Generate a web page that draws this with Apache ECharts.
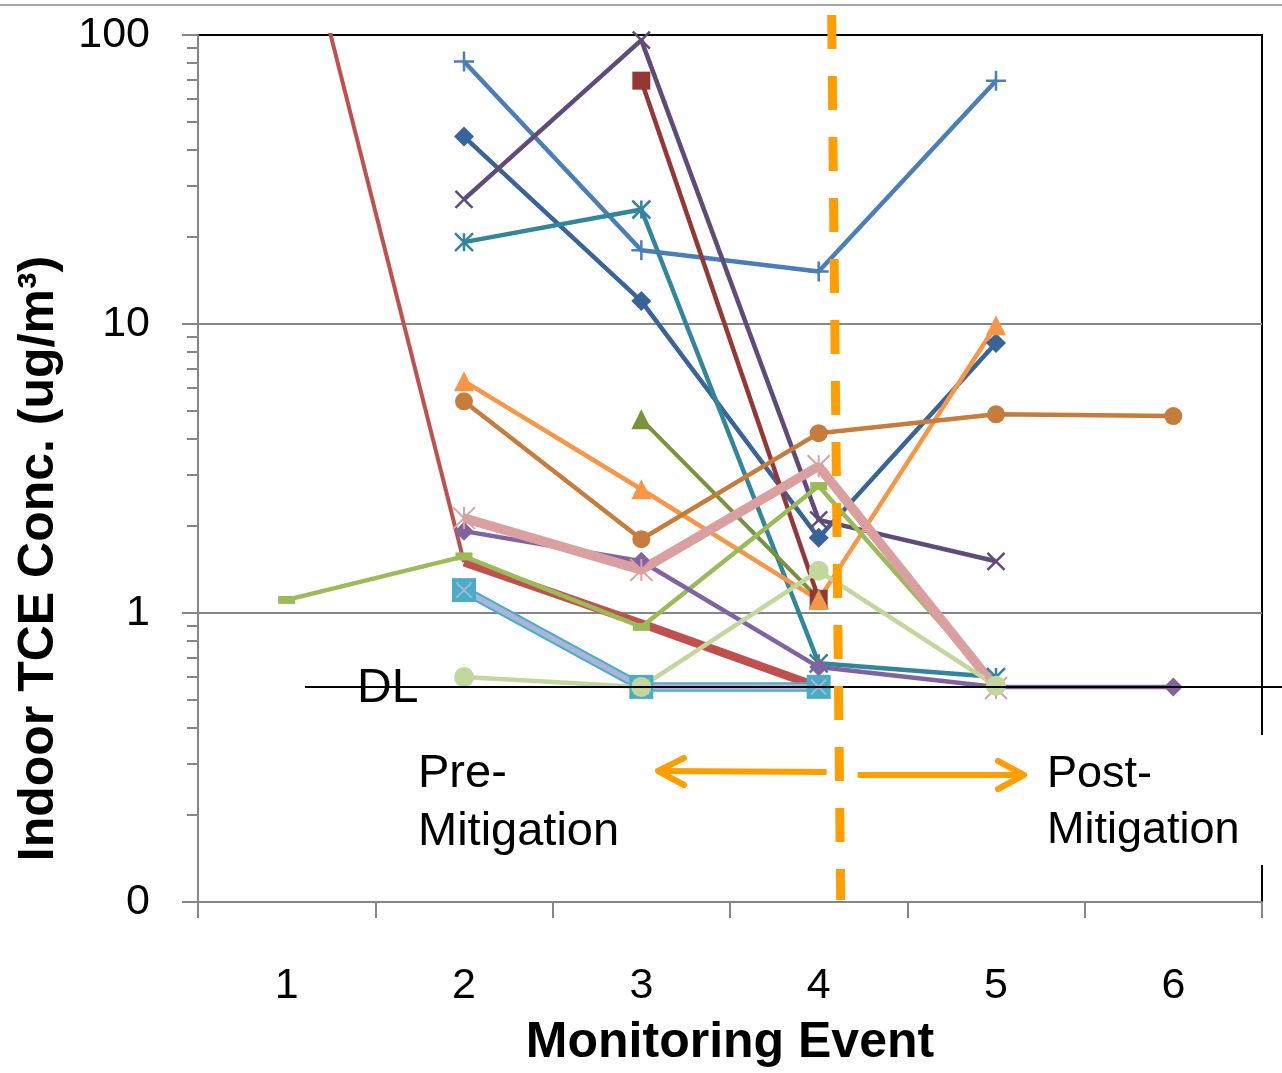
<!DOCTYPE html>
<html>
<head>
<meta charset="utf-8">
<script src="https://cdn.jsdelivr.net/npm/echarts@6/dist/echarts.min.js"></script>
<style>
html,body{margin:0;padding:0;background:#fff;}
#main{width:1282px;height:1073px;}
</style>
</head>
<body>
<div id="main"></div>
<script>
// monitoring events (x categories)
var events = ['1', '2', '3', '4', '5', '6'];

// indoor TCE per building, ug/m3 (null = not sampled)
var redThin        = [400, 1.5, null, null, null, null];
var bluePlus       = [null, 81, 18, 15.2, 69.5, null];
var navyDiamond    = [null, 44.5, 12, 1.82, 8.6, null];
var purpleCross    = [null, 27, 96, 2.1, 1.51, null];
var maroonSquare   = [null, null, 69.5, 1.12, null, null];
var tealStar       = [null, 19.2, 24.9, 0.67, 0.6, null];
var oliveTriangle  = [null, null, 4.68, 1.12, null, null];
var orangeTriangle = [null, 6.34, 2.68, 1.11, 9.9, null];
var brownCircle    = [null, 5.4, 1.8, 4.19, 4.87, 4.8];
var redThick       = [null, 1.5, 0.92, 0.555, null, null];
var greenDash      = [1.11, 1.57, 0.895, 2.75, 0.56, null];
var violetDiamond  = [null, 1.92, 1.51, 0.65, 0.555, 0.555];
var pinkStar       = [null, 2.13, 1.41, 3.22, 0.55, null];
var cyanSquare     = [null, 1.2, 0.555, 0.555, null, null];
var lavenderCross  = [null, 1.2, 0.555, 0.555, null, null];
var paleCircle     = [null, 0.6, 0.555, 1.4, 0.56, null];

var detectionLimit = 0.555;

var FONT = '"Liberation Sans", Arial, sans-serif';
var PLUS = 'path://M5,0 L5,10 M0,5 L10,5';
var CROSS = 'path://M0,0 L10,10 M10,0 L0,10';
var STAR = 'path://M0,0 L10,10 M10,0 L0,10 M5,0 L5,10';

function mkLine(name, data, color, width, symbol, size, stroke) {
  return {
    name: name,
    type: 'line',
    data: data,
    symbol: symbol,
    symbolSize: size,
    showSymbol: symbol !== 'none',
    lineStyle: { color: color, width: width },
    itemStyle: {
      color: stroke ? 'rgba(0,0,0,0)' : color,
      borderColor: color,
      borderWidth: stroke ? stroke : 0
    },
    emphasis: { disabled: true },
    clip: true
  };
}

var chart = echarts.init(document.getElementById('main'));

var option = {
  animation: false,
  backgroundColor: '#fff',
  grid: {
    left: 198, right: 20, top: 35, bottom: 171,
    show: true, borderColor: '#000', borderWidth: 2
  },
  xAxis: {
    type: 'category',
    data: events,
    boundaryGap: true,
    axisLine: { lineStyle: { color: '#868686', width: 2 } },
    axisTick: { show: true, length: 16, lineStyle: { color: '#868686', width: 2 } },
    axisLabel: { fontSize: 43, color: '#000', margin: 63, fontFamily: FONT },
    name: 'Monitoring Event',
    nameLocation: 'middle',
    nameGap: 116,
    nameTextStyle: { fontSize: 50, fontWeight: 'bold', color: '#000', fontFamily: FONT }
  },
  yAxis: {
    type: 'log',
    logBase: 10,
    min: 0.1,
    max: 100,
    axisLine: { show: true, lineStyle: { color: '#868686', width: 2 } },
    axisTick: { show: true, length: 16, lineStyle: { color: '#868686', width: 2 } },
    minorTick: { show: true, splitNumber: 9, length: 11, lineStyle: { color: '#868686', width: 2 } },
    splitLine: { show: true, showMinLine: false, showMaxLine: false, lineStyle: { color: '#868686', width: 2 } },
    axisLabel: {
      fontSize: 43, color: '#000', margin: 48, fontFamily: FONT,
      formatter: function (v) { return v < 0.5 ? '0' : String(v); }
    },
    name: 'Indoor TCE Conc. (ug/m\u00b3)',
    nameLocation: 'middle',
    nameRotate: 90,
    nameGap: 134,
    nameTextStyle: { fontSize: 50, fontWeight: 'bold', color: '#000', fontFamily: FONT, padding: [0, 180, 0, 0] }
  },
  series: [
    mkLine('A', redThin, '#C0504D', 4, 'none', 0),
    mkLine('B', bluePlus, '#4A7EBB', 4.5, PLUS, 20, 2.5),
    mkLine('C', navyDiamond, '#386499', 4.5, 'diamond', 20),
    mkLine('D', purpleCross, '#604A7B', 4.5, CROSS, 17, 2.5),
    mkLine('E', maroonSquare, '#953735', 4.5, 'rect', 18),
    mkLine('F', tealStar, '#31859C', 4.5, STAR, 18, 2.5),
    mkLine('G', oliveTriangle, '#77933C', 4, 'triangle', 20),
    mkLine('H', orangeTriangle, '#F79646', 4.5, 'triangle', 20),
    mkLine('I', brownCircle, '#C77C3B', 4.5, 'circle', 18),
    mkLine('J', redThick, '#C0504D', 8.5, 'none', 0),
    mkLine('K', greenDash, '#9BBB59', 4.5, 'rect', [17, 8]),
    mkLine('L', violetDiamond, '#8064A2', 4.5, 'diamond', 19),
    mkLine('M', pinkStar, '#D9A09F', 9.5, STAR, 22, 2),
    mkLine('N', cyanSquare, '#4BACC6', 9.5, 'rect', 24),
    mkLine('O', lavenderCross, '#A9B6DA', 5.5, CROSS, 15, 2),
    mkLine('P', paleCircle, '#C3D69B', 4.5, 'circle', 20)
  ]
};

chart.setOption(option);

// annotations placed from axis coordinates
var yDL = chart.convertToPixel({ yAxisIndex: 0 }, detectionLimit);
var yBottom = chart.convertToPixel({ yAxisIndex: 0 }, 0.1);
var x4 = chart.convertToPixel({ xAxisIndex: 0 }, '4');
var orange = '#FF9E00';

chart.setOption({
  graphic: [
    { type: 'line', z: 100, shape: { x1: 0, y1: 5, x2: 1282, y2: 5 }, style: { stroke: '#a6a6a6', lineWidth: 2 } },
    { type: 'line', z: 100, shape: { x1: 305, y1: yDL, x2: 1282, y2: yDL }, style: { stroke: '#000', lineWidth: 2 } },
    { type: 'text', z: 101, x: 357, y: yDL + 2, style: { text: 'DL', fontSize: 48, fontFamily: FONT, fill: '#000', verticalAlign: 'middle' } },
    { type: 'line', z: 102, shape: { x1: x4 + 13, y1: 15, x2: x4 + 22, y2: yBottom - 2 }, style: { stroke: orange, lineWidth: 9, lineDash: [34, 27] } },
    { type: 'line', z: 102, shape: { x1: x4 + 8, y1: 772, x2: 658, y2: 771 }, style: { stroke: orange, lineWidth: 6 } },
    { type: 'polyline', z: 102, shape: { points: [[684, 758], [658, 771], [684, 785]] }, style: { stroke: orange, lineWidth: 6, lineCap: 'round', lineJoin: 'round', fill: null } },
    { type: 'line', z: 102, shape: { x1: x4 + 39, y1: 775, x2: 1024, y2: 775 }, style: { stroke: orange, lineWidth: 6 } },
    { type: 'polyline', z: 102, shape: { points: [[998, 761], [1024, 775], [998, 789]] }, style: { stroke: orange, lineWidth: 6, lineCap: 'round', lineJoin: 'round', fill: null } },
    { type: 'text', z: 101, x: 418, y: 745, style: { text: 'Pre-\nMitigation', fontSize: 47, lineHeight: 58, fontFamily: FONT, fill: '#000' } },
    { type: 'rect', z: 100, shape: { x: 1036, y: 735, width: 246, height: 130 }, style: { fill: '#fff' } },
    { type: 'text', z: 101, x: 1047, y: 747, style: { text: 'Post-\nMitigation', fontSize: 45, lineHeight: 56, fontFamily: FONT, fill: '#000' } }
  ]
});
</script>
</body>
</html>
